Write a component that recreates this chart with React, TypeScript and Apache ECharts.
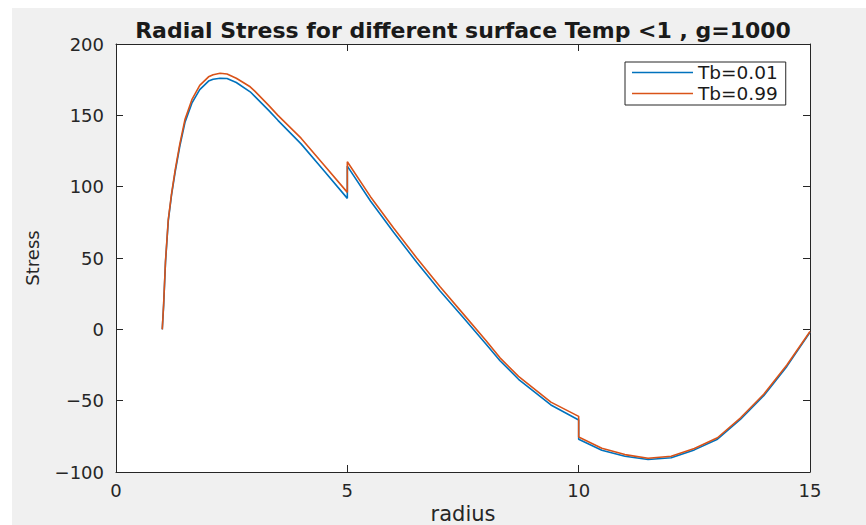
import React, { useEffect, useRef } from "react";
import * as echarts from "echarts";

const radius = [1, 1.03, 1.07, 1.13, 1.2, 1.28, 1.38, 1.49, 1.64, 1.81, 2.0, 2.1, 2.25, 2.4, 2.6, 2.9, 3.0, 3.3, 3.5, 4.0, 4.5, 5.0, 5.0, 5.5, 6, 6.5, 7, 7.5, 8, 8.3, 8.7, 9.4, 10, 10, 10.5, 11, 11.5, 12, 12.5, 13, 13.5, 14, 14.5, 15];
const stressTb001 = [0, 17, 47, 76, 94, 110.5, 128.5, 145, 158.5, 168, 174, 175.3, 176, 175.8, 173, 166.5, 163.3, 153.5, 146.5, 130, 111, 91.8, 114.4, 90, 68, 47, 27, 8.5, -10.5, -22, -35, -53, -63.5, -77, -84.8, -89, -91.2, -90, -84.5, -77, -63, -46.5, -26, -2];
const stressTb099 = [0, 18, 48, 77, 95, 112, 130, 147, 161, 171, 177, 178.5, 179.5, 179, 176, 170, 167, 157, 150, 134, 115, 96, 117.5, 93, 71, 50, 30, 11, -8, -20, -33, -51, -61, -75.5, -83.3, -87.8, -90.4, -89, -83.5, -76, -62, -45.5, -25, -1.5];
const seriesNames = ["Tb=0.01", "Tb=0.99"];
const xTicks = { min: 0, max: 15, interval: 5 };
const yTicks = { min: -100, max: 200, interval: 50 };
const titleText = "Radial Stress for different surface Temp <1 , g=1000";

const FONT = "DejaVu Sans";
const AXIS = "#262626";

export default function App() {
  const ref = useRef<HTMLDivElement>(null);
  useEffect(() => {
    if (!ref.current) return;
    const chart = echarts.init(ref.current, undefined, { renderer: "svg" });
    const pair = (vals: number[]) => radius.map((r, i) => [r, vals[i]]);
    const minus = (v: number) => String(v).replace("-", "\u2212");
    const axisCommon = {
      axisLine: { show: true, onZero: false, lineStyle: { color: AXIS, width: 1 } },
      axisTick: { show: true, inside: true, length: 7, lineStyle: { color: AXIS } },
      splitLine: { show: false },
    };
    chart.setOption({
      animation: false,
      backgroundColor: "transparent",
      textStyle: { fontFamily: FONT },
      grid: {
        left: 104,
        top: 36,
        right: 56,
        bottom: 53,
        containLabel: false,
        outerBoundsMode: "none",
        show: true,
        backgroundColor: "#fff",
        borderWidth: 0,
      },
      graphic: [
        {
          type: "text",
          x: 451,
          y: 22,
          style: {
            text: titleText,
            fontFamily: FONT,
            fontWeight: "bold",
            fontSize: 22,
            fill: "#1a1a1a",
            textAlign: "center",
            textVerticalAlign: "middle",
          },
        },
      ],
      legend: {
        data: seriesNames,
        orient: "vertical",
        left: 613,
        top: 54,
        padding: [1, 8, 2, 7],
        itemGap: 2,
        itemWidth: 61,
        itemHeight: 1.6,
        icon: "rect",
        backgroundColor: "#fff",
        borderColor: AXIS,
        borderWidth: 1,
        borderRadius: 0,
        textStyle: { fontFamily: FONT, fontSize: 18.5, color: "#1a1a1a" },
      },
      xAxis: [
        {
          type: "value",
          position: "bottom",
          ...xTicks,
          ...axisCommon,
          axisLabel: { fontFamily: FONT, fontSize: 18, color: AXIS, margin: 9, formatter: minus },
          name: "radius",
          nameLocation: "middle",
          nameGap: 29,
          nameTextStyle: { fontFamily: FONT, fontSize: 21, color: AXIS },
        },
        {
          type: "value",
          position: "top",
          ...xTicks,
          ...axisCommon,
          axisLabel: { show: false },
        },
      ],
      yAxis: [
        {
          type: "value",
          position: "left",
          ...yTicks,
          ...axisCommon,
          axisLabel: { fontFamily: FONT, fontSize: 18, color: AXIS, margin: 12, formatter: minus },
          name: "Stress",
          nameLocation: "middle",
          nameGap: 75,
          nameTextStyle: { fontFamily: FONT, fontSize: 18, color: AXIS },
        },
        {
          type: "value",
          position: "right",
          ...yTicks,
          ...axisCommon,
          axisLabel: { show: false },
        },
      ],
      series: [
        {
          name: seriesNames[0],
          type: "line",
          data: pair(stressTb001),
          symbol: "none",
          lineStyle: { color: "#0072BD", width: 1.6 },
          itemStyle: { color: "#0072BD" },
        },
        {
          name: seriesNames[1],
          type: "line",
          data: pair(stressTb099),
          symbol: "none",
          lineStyle: { color: "#D95319", width: 1.6 },
          itemStyle: { color: "#D95319" },
        },
      ],
    });
    return () => chart.dispose();
  }, []);
  return (
    <div style={{ position: "absolute", left: 0, top: 0, width: 866, height: 525, background: "#fff" }}>
      <div
        ref={ref}
        style={{ position: "absolute", left: 12, top: 8, width: 854, height: 517, background: "#f0f0f0" }}
      />
    </div>
  );
}
